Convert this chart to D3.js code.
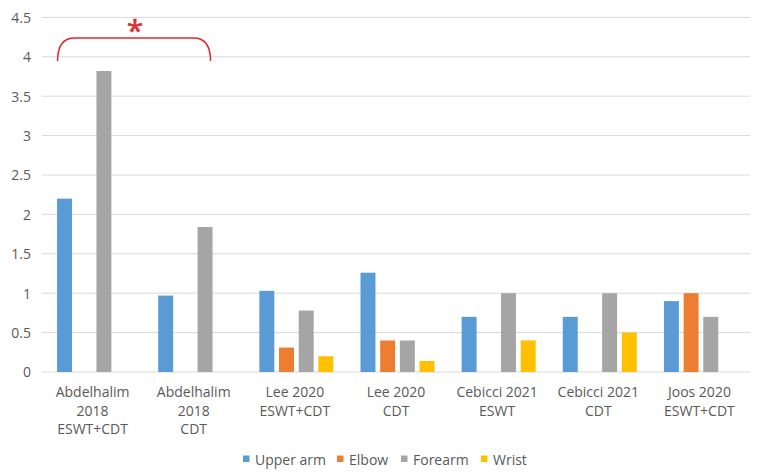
<!DOCTYPE html>
<html><head><meta charset="utf-8">
<script src="https://cdn.jsdelivr.net/npm/d3@7"></script>
<style>body{margin:0;background:#fff}svg{display:block}text{font-family:"Open Sans","Liberation Sans",sans-serif;fill:#595959}</style>
</head><body><svg id="c" width="760" height="472"></svg>
<script>
const categories = [["Abdelhalim","2018","ESWT+CDT"],["Abdelhalim","2018","CDT"],["Lee 2020","ESWT+CDT"],["Lee 2020","CDT"],["Cebicci 2021","ESWT"],["Cebicci 2021","CDT"],["Joos 2020","ESWT+CDT"]];
const seriesNames = ["Upper arm","Elbow","Forearm","Wrist"];
const upperArm = [2.20,0.97,1.03,1.26,0.70,0.70,0.90];
const elbow    = [null,null,0.31,0.40,null,null,1.00];
const forearm  = [3.82,1.84,0.78,0.40,1.00,1.00,0.70];
const wrist    = [null,null,0.20,0.14,0.40,0.50,null];
const yTicks = [0,0.5,1,1.5,2,2.5,3,3.5,4,4.5];
const colors = ["#5B9BD5","#ED7D31","#A5A5A5","#FFC000"];
const series = [upperArm, elbow, forearm, wrist];

const svg = d3.select("#c");
const L=42, R=750, T=17.4, B=372;
const y = d3.scaleLinear().domain([0,4.5]).range([B,T]);
const x0 = d3.scaleBand().domain(d3.range(categories.length)).range([L,R]);
const x1 = d3.scaleBand().domain(d3.range(4)).range([0,74]).paddingInner(0.24).paddingOuter(0);
const off = (x0.bandwidth()-74)/2 + 1.5;

// grid
svg.append("g").selectAll("line").data(yTicks).join("line")
  .attr("x1",L).attr("x2",R).attr("y1",d=>y(d)).attr("y2",d=>y(d))
  .attr("stroke","#D9D9D9").attr("stroke-width",1);
// y axis labels
const yAxis = d3.axisLeft(y).tickValues(yTicks).tickSize(0).tickPadding(0).tickFormat(d3.format("~g"));
const ya = svg.append("g").attr("transform","translate(31,0)").call(yAxis);
ya.select(".domain").remove();
ya.selectAll("text").style("font-size","14px").attr("fill","#595959").attr("dy","0.35em");

// bars
const g = svg.append("g");
categories.forEach((c,i)=>{
  series.forEach((s,j)=>{
    if(s[i]==null) return;
    g.append("rect").attr("x",x0(i)+off+x1(j)).attr("width",x1.bandwidth())
      .attr("y",y(s[i])).attr("height",B-y(s[i])).attr("fill",colors[j]);
  });
});

// x labels
categories.forEach((c,i)=>{
  const t = svg.append("text").attr("text-anchor","middle").style("font-size","14px")
    .attr("x",x0(i)+x0.bandwidth()/2).attr("y",397);
  c.forEach((line,k)=>t.append("tspan").attr("x",x0(i)+x0.bandwidth()/2).attr("dy",k?18.5:0).text(line));
});

// bracket
const bx1 = x0(0)+off+x1(0)+0.5, bx2 = x0(1)+off+x1(2)+x1.bandwidth()-2;
const by = 38, byEnd = 61, r = 12;
svg.append("path").attr("fill","none").attr("stroke","#E0282E").attr("stroke-width",1.5)
  .attr("d",`M${bx1},${byEnd} Q${bx1},${by} ${bx1+r*1.4},${by} L${bx2-r*1.4},${by} Q${bx2},${by} ${bx2},${byEnd}`);
svg.append("text").attr("x",(bx1+bx2)/2+1).attr("y",41).attr("text-anchor","middle")
  .style("font-size","30px").style("fill","#E0282E").style("stroke","#E0282E").style("stroke-width","0.6").text("*");

// legend
const lx=[243,337,401,481];
const lg = svg.append("g");
seriesNames.forEach((n,j)=>{
  lg.append("rect").attr("x",lx[j]).attr("y",455.5).attr("width",6.5).attr("height",6.5).attr("fill",colors[j]);
  lg.append("text").attr("x",lx[j]+12).attr("y",464.5).style("font-size","14px").text(n);
});
</script></body></html>
